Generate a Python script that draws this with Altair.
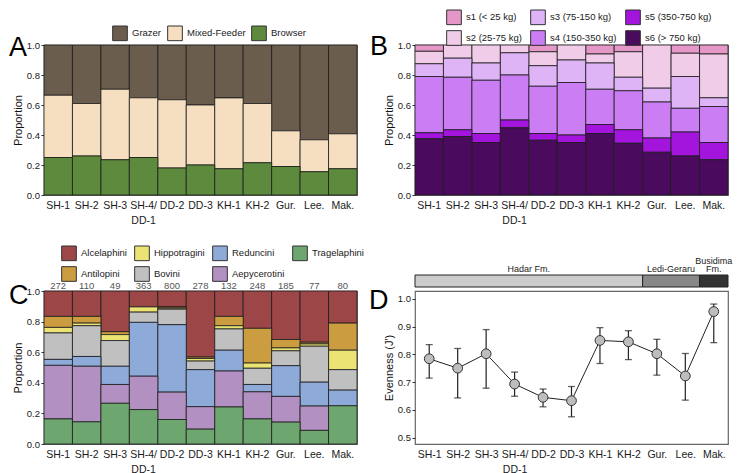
import json
import altair as alt
import pandas as pd

FONT = "Liberation Sans"

# ---------------- data ----------------
sites = ["SH-1", "SH-2", "SH-3", "SH-4/DD-1", "DD-2", "DD-3", "KH-1", "KH-2", "Gur.", "Lee.", "Mak."]

# Panel A: dietary categories (top -> bottom in the stack)
diet_classes = ["Grazer", "Mixed-Feeder", "Browser"]
diet_colors = ["#6b5d4e", "#f5dfc0", "#5e8a3d"]
grazer = [0.335, 0.390, 0.295, 0.352, 0.365, 0.400, 0.353, 0.390, 0.572, 0.632, 0.592]
mixed = [0.415, 0.350, 0.470, 0.398, 0.455, 0.400, 0.472, 0.395, 0.238, 0.213, 0.233]
browser = [0.250, 0.260, 0.235, 0.250, 0.180, 0.200, 0.175, 0.215, 0.190, 0.155, 0.175]

# Panel B: body-size classes (top -> bottom in the stack)
size_classes = ["s1 (< 25 kg)", "s2 (25-75 kg)", "s3 (75-150 kg)",
                "s4 (150-350 kg)", "s5 (350-750 kg)", "s6 (> 750 kg)"]
size_colors = ["#e597c8", "#f0cce8", "#dfb4f6", "#cb7ef4", "#a315dc", "#4a0a5e"]
s1 = [0.042, 0.000, 0.000, 0.000, 0.045, 0.000, 0.060, 0.045, 0.000, 0.055, 0.060]
s2 = [0.083, 0.088, 0.120, 0.052, 0.093, 0.100, 0.060, 0.170, 0.288, 0.155, 0.292]
s3 = [0.085, 0.127, 0.115, 0.148, 0.137, 0.150, 0.175, 0.090, 0.092, 0.212, 0.058]
s4 = [0.375, 0.350, 0.355, 0.300, 0.315, 0.350, 0.235, 0.260, 0.240, 0.158, 0.240]
s5 = [0.040, 0.045, 0.060, 0.052, 0.045, 0.050, 0.060, 0.090, 0.095, 0.160, 0.115]
s6 = [0.375, 0.390, 0.350, 0.448, 0.365, 0.350, 0.410, 0.345, 0.285, 0.260, 0.235]

# Panel C: bovid tribes (top -> bottom in the stack)
tribes = ["Alcelaphini", "Antilopini", "Hippotragini", "Bovini",
          "Reduncini", "Aepycerotini", "Tragelaphini"]
tribe_colors = ["#9c4648", "#cc9c40", "#ebe475", "#c0c0c0", "#8eaad9", "#b290c2", "#6ea66f"]
alcelaphini = [0.166, 0.166, 0.266, 0.104, 0.104, 0.432, 0.166, 0.244, 0.317, 0.335, 0.210]
antilopini = [0.072, 0.044, 0.019, 0.000, 0.008, 0.009, 0.061, 0.227, 0.055, 0.011, 0.177]
hippotragini = [0.036, 0.017, 0.039, 0.034, 0.007, 0.017, 0.021, 0.034, 0.019, 0.015, 0.127]
bovini = [0.173, 0.201, 0.168, 0.067, 0.101, 0.056, 0.139, 0.106, 0.097, 0.235, 0.134]
reduncini = [0.039, 0.064, 0.119, 0.352, 0.441, 0.242, 0.136, 0.048, 0.201, 0.156, 0.102]
aepycerotini = [0.350, 0.363, 0.123, 0.218, 0.179, 0.147, 0.235, 0.177, 0.168, 0.159, 0.000]
tragelaphini = [0.164, 0.145, 0.266, 0.225, 0.160, 0.097, 0.242, 0.164, 0.143, 0.089, 0.250]
sample_sizes = [272, 110, 49, 363, 800, 278, 132, 248, 185, 77, 80]

# Panel D: evenness with intervals
evenness = [0.784, 0.750, 0.802, 0.693, 0.645, 0.633, 0.850, 0.845, 0.802, 0.722, 0.954]
even_low = [0.714, 0.643, 0.678, 0.649, 0.611, 0.575, 0.767, 0.781, 0.725, 0.635, 0.842]
even_high = [0.835, 0.821, 0.889, 0.736, 0.675, 0.684, 0.896, 0.885, 0.854, 0.803, 0.981]
formations = ["Hadar Fm.", "Ledi-Geraru", "Busidima\nFm."]
formation_start = [0, 8, 10]
formation_end = [7, 9, 10]
formation_colors = ["#cccccc", "#888888", "#333333"]

panel_letters = ["A", "B", "C", "D"]

# ---------------- helpers ----------------
W1, W2 = 313, 313
H1, H2 = 150, 153

label_lines = [[s.split("/")[0] + "/", s.split("/")[1]] if "/" in s else s for s in sites]
lab_arr = json.dumps(label_lines)
site_arr = json.dumps(sites)
nominal_label_expr = f"{lab_arr}[indexof({site_arr}, datum.value)]"
index_label_expr = f"{lab_arr}[datum.value]"


def long_table(classes, series):
    rows = []
    n = len(classes)
    for k, (cls, vals) in enumerate(zip(classes, series)):
        for i, v in enumerate(vals):
            if v > 0:
                rows.append({"site": sites[i], "cls": cls, "value": v, "order": n - 1 - k})
    return pd.DataFrame(rows)


x_axis_common = dict(title=None, labelAngle=0, ticks=False, domain=False, labelPadding=5,
                     labelFontSize=10.5, labelColor="#1a1a1a", labelLineHeight=15,
                     labelOverlap=False, labelFont=FONT)


def y_axis(title, values):
    return alt.Axis(title=title, values=values, format=".1f", tickSize=3, tickColor="#333",
                    domain=False, grid=False, labelFontSize=9.5, labelColor="#1a1a1a",
                    labelPadding=1.5, titleFontSize=11, titleFontWeight="normal",
                    labelOverlap=False, titlePadding=3, titleColor="#111",
                    labelFont=FONT, titleFont=FONT)


def letter(ch, dx, dy):
    return alt.Chart(pd.DataFrame({"t": [ch]})).mark_text(
        align="left", baseline="alphabetic", fontSize=27, font=FONT, color="#000"
    ).encode(text="t:N", x=alt.value(dx), y=alt.value(dy))


def stacked(classes, colors, series, width, height, legend, letter_chart, extra=None):
    df = long_table(classes, series)
    bars = alt.Chart(df).mark_bar(stroke="#1a1a1a", strokeWidth=0.8).encode(
        x=alt.X("site:N", sort=sites, scale=alt.Scale(paddingInner=0, paddingOuter=0),
                axis=alt.Axis(labelExpr=nominal_label_expr, **x_axis_common)),
        y=alt.Y("sum(value):Q", stack="zero",
                scale=alt.Scale(domain=[0, 1], nice=False),
                axis=y_axis("Proportion", [0, 0.2, 0.4, 0.6, 0.8, 1.0])),
        color=alt.Color("cls:N", scale=alt.Scale(domain=classes, range=colors), legend=legend),
        order=alt.Order("order:Q", sort="ascending"),
    )
    layers = [bars, letter_chart]
    if extra is not None:
        layers.append(extra)
    return alt.layer(*layers).properties(width=width, height=height)


def legend(x, y, columns, values, rowpad=1, colpad=5):
    return alt.Legend(orient="none", legendX=x, legendY=y, direction="horizontal",
                      columns=columns, values=values, title=None, symbolType="square",
                      symbolSize=215, symbolStrokeColor="#333", symbolStrokeWidth=1,
                      symbolOpacity=1, labelFontSize=9.5, labelFont=FONT, labelColor="#1a1a1a",
                      labelOffset=4, columnPadding=colpad, rowPadding=rowpad)


# ---------------- panel A ----------------
panelA = stacked(diet_classes, diet_colors, [grazer, mixed, browser], W1, H1,
                 legend(68, -20, 3, diet_classes, colpad=3),
                 letter(panel_letters[0], -35, 11))

# ---------------- panel B ----------------
b_order = [size_classes[i] for i in (0, 2, 4, 1, 3, 5)]
panelB = stacked(size_classes, size_colors, [s1, s2, s3, s4, s5, s6], W2, H1,
                 legend(31, -36, 3, b_order, rowpad=1, colpad=6),
                 letter(panel_letters[1], -45, 10))

# ---------------- panel C ----------------
c_order = [tribes[i] for i in (0, 2, 4, 6, 1, 3, 5)]
counts_df = pd.DataFrame({"site": sites, "n": sample_sizes})
counts = alt.Chart(counts_df).mark_text(
    baseline="alphabetic", fontSize=9.5, font=FONT, color="#555"
).encode(x=alt.X("site:N", sort=sites), y=alt.value(-2.5), text="n:Q")
panelC = stacked(tribes, tribe_colors,
                 [alcelaphini, antilopini, hippotragini, bovini, reduncini, aepycerotini, tragelaphini],
                 W1, H2, legend(17, -46, 4, c_order, rowpad=1, colpad=5),
                 letter(panel_letters[2], -35, 13), extra=counts)

# ---------------- panel D ----------------
d_df = pd.DataFrame({"idx": list(range(len(sites))), "site": sites, "ev": evenness,
                     "lo": even_low, "hi": even_high})
xscaleD = alt.Scale(domain=[-0.5, len(sites) - 0.5], nice=False, zero=False)
yscaleD = alt.Scale(domain=[0.477, 1.028], nice=False, zero=False)
xaxisD = alt.Axis(values=list(range(len(sites))), labelExpr=index_label_expr,
                  grid=False, **x_axis_common)
yaxisD = y_axis("Evenness (J′)", [0.5, 0.6, 0.7, 0.8, 0.9, 1.0])


def xd(field):
    return alt.X(field, type="quantitative", scale=xscaleD, axis=xaxisD)


def yd(field):
    return alt.Y(field, type="quantitative", scale=yscaleD, axis=yaxisD)


baseD = alt.Chart(d_df)
rules = baseD.mark_rule(color="#222", strokeWidth=1.2).encode(
    x=xd("idx"), y=yd("lo"), y2="hi:Q")
cap_lo = baseD.mark_tick(orient="horizontal", size=7, thickness=1.3, color="#222").encode(
    x=xd("idx"), y=yd("lo"))
cap_hi = baseD.mark_tick(orient="horizontal", size=7, thickness=1.3, color="#222").encode(
    x=xd("idx"), y=yd("hi"))
line = baseD.mark_line(color="#222", strokeWidth=1).encode(x=xd("idx"), y=yd("ev"))
pts = baseD.mark_point(filled=True, size=95, fill="#bdbdbd", stroke="#333", strokeWidth=1,
                       opacity=1).encode(x=xd("idx"), y=yd("ev"))

f_parts = [f.split("\n") for f in formations]
f_df = pd.DataFrame({
    "formation": formations, "start": formation_start, "end": formation_end,
    "line1": [p[0] if len(p) > 1 else "" for p in f_parts],
    "line2": [p[-1] for p in f_parts],
})
f_base = alt.Chart(f_df).transform_calculate(
    x0="datum.start - 0.5", x1="datum.end + 0.5", xm="(datum.start + datum.end) / 2")
f_rect = f_base.mark_rect(stroke="#222", strokeWidth=1).encode(
    x=xd("x0"), x2="x1:Q", y=alt.value(-16), y2=alt.value(-4),
    color=alt.Color("formation:N", scale=alt.Scale(domain=formations, range=formation_colors),
                    legend=None))
f_text2 = f_base.mark_text(baseline="alphabetic", fontSize=9, font=FONT, color="#222").encode(
    x=xd("xm"), y=alt.value(-19), text="line2:N")
f_text1 = f_base.mark_text(baseline="alphabetic", fontSize=9, font=FONT, color="#222").encode(
    x=xd("xm"), y=alt.value(-27), text="line1:N")

panelD = alt.layer(rules, cap_lo, cap_hi, line, pts, f_rect, f_text2, f_text1,
                   letter(panel_letters[3], -46, 18)).properties(width=W2, height=H2)

# ---------------- layout ----------------
chart = alt.concat(
    panelA, panelB, panelC, panelD, columns=2,
    spacing=alt.RowColnumber(row=96, column=58), bounds="flush", padding=0
).resolve_scale(
    x="independent", y="independent", color="independent"
).resolve_axis(
    x="independent", y="independent"
).resolve_legend(
    color="independent"
).configure_view(
    stroke="#666", strokeWidth=1.2
).configure_axis(labelFont=FONT, titleFont=FONT).configure_legend(labelFont=FONT)

chart.save("out.html", embed_options={"renderer": "svg", "actions": False})
